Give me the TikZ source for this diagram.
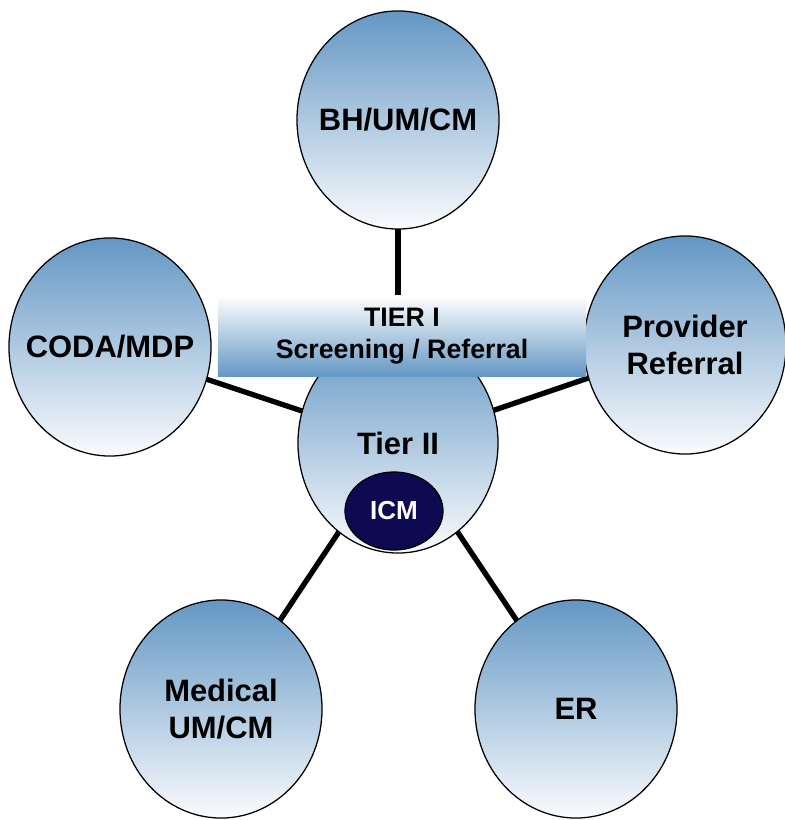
\documentclass[tikz,border=0pt]{standalone}
\usepackage{fontspec}
\setmainfont{Liberation Sans}
\usepackage{xcolor}
\usetikzlibrary{shapes.geometric}
\usetikzlibrary{backgrounds}

\definecolor{hubblue}{RGB}{99,151,196}
\definecolor{hubwhite}{RGB}{250,251,253}
\definecolor{icmnavy}{RGB}{14,10,82}

\begin{document}
\begin{tikzpicture}[x=0.025cm, y=-0.025cm,
	spoke/.style={ellipse, draw=black, line width=0.9pt, top color=hubblue, bottom color=hubwhite,
		minimum width=5.05cm, minimum height=5.45cm, inner sep=-1.5cm, align=center,
		font=\fontsize{22}{26}\selectfont\bfseries},
	banner/.style={rectangle, top color=white, bottom color=hubblue, minimum width=9.2cm,
		minimum height=2.03cm, inner sep=0pt, align=center, font=\fontsize{19}{23}\selectfont\bfseries},
	icmbox/.style={ellipse, draw=black, line width=0.9pt, fill=icmnavy, text=white,
		minimum width=2.45cm, minimum height=1.95cm, inner sep=-0.6cm, font=\fontsize{18.5}{22}\selectfont\bfseries},
	link/.style={line width=3.8pt, black}]

	\useasboundingbox (0,0) rectangle (784,820);

	% outer circles
	\node[spoke] (bh) at (398,120) {BH/UM/CM};
	\node[spoke] (coda) at (110,347) {CODA/MDP};
	\node[spoke] (prov) at (685,345) {Provider\\Referral};
	\node[spoke] (med) at (221,709) {Medical\\UM/CM};
	\node[spoke] (er) at (576,709) {ER};

	% centre circle
	\node[spoke, minimum width=5cm, minimum height=5.5cm] (hub) at (398,443) {Tier II};

	% tier I band
	\node[banner] (tier1) at (402,336) {TIER I\\Screening / Referral};

	% ICM
	\node[icmbox] (icm) at (394,511) {ICM};

	% links
	\begin{scope}[on background layer]
	\foreach \spk in {bh,coda,prov,med,er}
		\draw[link] (hub.center) -- (\spk.center);
	\end{scope}
\end{tikzpicture}
\end{document}
